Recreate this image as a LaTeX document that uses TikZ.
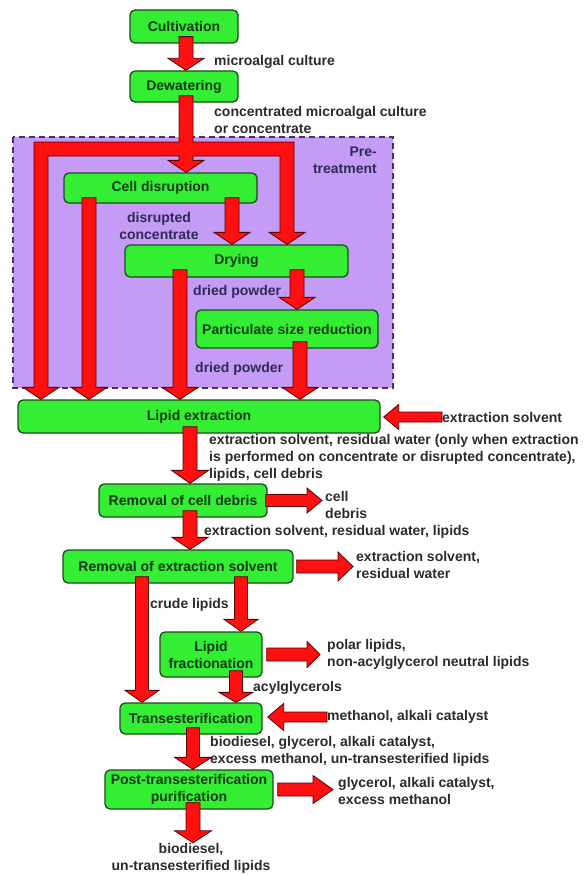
\documentclass[tikz,border=0pt]{standalone}
\usepackage{fontspec}
\setmainfont{Liberation Sans}
\usetikzlibrary{calc}
\definecolor{boxgreen}{HTML}{33EE33}
\definecolor{boxline}{HTML}{1E4A1E}
\definecolor{nodetext}{HTML}{0F3A0F}
\definecolor{purplefill}{HTML}{C49CF6}
\definecolor{purpleline}{HTML}{4A2D6E}
\definecolor{arrowred}{HTML}{FF1010}
\definecolor{arrowline}{HTML}{5A0000}
\definecolor{labeltext}{HTML}{2B2B2B}
\definecolor{innertext}{HTML}{2E2A55}
\newcommand\labfont{\fontsize{14}{17}\selectfont\bfseries}
\tikzset{
  proc/.style={draw=boxline, fill=boxgreen, line width=1.3pt, rounded corners=5pt,
    inner sep=0pt, font=\labfont, text=nodetext, align=center},
  lab/.style={inner sep=0pt, font=\labfont, text=labeltext, align=left, anchor=west},
  blockarrow/.style={fill=arrowred, draw=arrowline, line width=0.8pt, line join=miter},
  pregroup/.style={draw=purpleline, fill=purplefill, line width=1.2pt, dash pattern=on 6pt off 4pt},
}
% #1 shaft half width, #2 head half width, #3 head length, #4 from, #5 to
\newcommand\barrow[5]{%
  \coordinate (bS) at (#4);
  \coordinate (bE) at (#5);
  \coordinate (bH) at ($(bE)!#3!(bS)$);
  \filldraw[blockarrow] ($(bS)!#1!90:(bE)$) -- ($(bH)!#1!-90:(bS)$) -- ($(bH)!#2!-90:(bS)$)
    -- (bE) -- ($(bH)!#2!90:(bS)$) -- ($(bH)!#1!90:(bS)$) -- ($(bS)!#1!-90:(bE)$) -- cycle;
}
\begin{document}
\begin{tikzpicture}[x=1pt,y=-1pt]
\useasboundingbox[fill=white] (0,0) rectangle (585,875);
% pre-treatment group
\path[pregroup] (13,137) rectangle (393,388);
% column coordinates
\coordinate (cL) at (41,0);
\coordinate (cM) at (186,0);
\coordinate (cR) at (287,0);
\coordinate (c2) at (89,0);
\coordinate (c3) at (232,0);
\coordinate (c4) at (180,0);
\coordinate (c5) at (297,0);
\coordinate (c6) at (300,0);
\coordinate (c7) at (190,0);
\coordinate (c8) at (142,0);
\coordinate (c9) at (241,0);
\coordinate (c10) at (236,0);
\coordinate (c11) at (193,0);
% process nodes
\node[proc, minimum width=108, minimum height=33] (cult) at (184,26.5) {Cultivation};
\node[proc, minimum width=108, minimum height=31] (dew) at (184,86.5) {Dewatering};
\node[proc, minimum width=193, minimum height=30] (cell) at (160.5,188) {Cell disruption};
\node[proc, minimum width=223, minimum height=32] (dry) at (236.5,261) {Drying};
\node[proc, minimum width=182, minimum height=38] (psr) at (287,329) {Particulate size reduction};
\node[proc, minimum width=362, minimum height=33] (lipid) at (199,416.5) {Lipid extraction};
\node[proc, minimum width=168, minimum height=33] (rcd) at (183,500.5) {Removal of cell debris};
\node[proc, minimum width=230, minimum height=33] (res) at (178,566.5) {Removal of extraction solvent};
\node[proc, minimum width=102, minimum height=45] (frac) at (211,654.5) {Lipid\\fractionation};
\node[proc, minimum width=142, minimum height=31] (trans) at (191,718.5) {Transesterification};
\node[proc, minimum width=168, minimum height=39] (post) at (189,789.5) {Post-transesterification\\purification};
% labels
\node[lab] (l1) at (214,62) {microalgal culture};
\node[lab] (l2) at (214,120) {concentrated microalgal culture\\or concentrate};
\node[lab, anchor=east, align=right, text=innertext] (pre) at (377,160) {Pre-\\treatment};
\node[lab, anchor=center, align=center, text=innertext] (l3) at (159,226) {disrupted\\concentrate};
\node[lab, text=innertext] (l4) at (193,292) {dried powder};
\node[lab, text=innertext] (l5) at (195,369) {dried powder};
\node[lab] (esl) at (442,417) {extraction solvent};
\node[lab] (l6) at (209,458) {extraction solvent, residual water (only when extraction\\is performed on concentrate or disrupted concentrate),\\lipids, cell debris};
\node[lab] (cdl) at (325,505) {cell\\debris};
\node[lab] (l7) at (204,532) {extraction solvent, residual water, lipids};
\node[lab] (esol) at (356,564.5) {extraction solvent,\\residual water};
\node[lab] (l8) at (150,605) {crude lipids};
\node[lab] (pol) at (327,654.5) {polar lipids,\\non-acylglycerol neutral lipids};
\node[lab] (l9) at (253,688) {acylglycerols};
\node[lab] (meth) at (327,717) {methanol, alkali catalyst};
\node[lab] (l10) at (210,751.5) {biodiesel, glycerol, alkali catalyst,\\excess methanol, un-transesterified lipids};
\node[lab] (gly) at (338,790.5) {glycerol, alkali catalyst,\\excess methanol};
\node[lab, anchor=center, align=center] (out) at (191,858) {biodiesel,\\un-transesterified lipids};
% distribution pipe from dewatering
\filldraw[blockarrow]
  ($(dew.south -| cM)+(-7,-7)$) -- ($(cM)+(-7,142)$) -- ($(cL)+(-7,142)$)
  -- ($(lipid.north -| cL)+(-7,-12)$) -- ($(lipid.north -| cL)+(-18,-12)$) -- (lipid.north -| cL)
  -- ($(lipid.north -| cL)+(18,-12)$) -- ($(lipid.north -| cL)+(7,-12)$)
  -- ($(cL)+(7,156)$) -- ($(cM)+(-7,156)$)
  -- ($(cell.north -| cM)+(-7,-12)$) -- ($(cell.north -| cM)+(-18,-12)$) -- (cell.north -| cM)
  -- ($(cell.north -| cM)+(18,-12)$) -- ($(cell.north -| cM)+(7,-12)$)
  -- ($(cM)+(7,156)$) -- ($(cR)+(-7,156)$)
  -- ($(dry.north -| cR)+(-7,-12)$) -- ($(dry.north -| cR)+(-18,-12)$) -- (dry.north -| cR)
  -- ($(dry.north -| cR)+(18,-12)$) -- ($(dry.north -| cR)+(7,-12)$)
  -- ($(cR)+(7,142)$) -- ($(cM)+(7,142)$) -- ($(dew.south -| cM)+(7,-7)$) -- cycle;
% vertical arrows
\barrow{7pt}{18pt}{12pt}{$(cult.south -| cM)+(0,-7)$}{dew.north -| cM}
\barrow{7pt}{18pt}{12pt}{$(cell.south -| c2)+(0,-6)$}{lipid.north -| c2}
\barrow{7pt}{18pt}{12pt}{$(cell.south -| c3)+(0,-6)$}{dry.north -| c3}
\barrow{7pt}{18pt}{12pt}{$(dry.south -| c4)+(0,-8)$}{lipid.north -| c4}
\barrow{7pt}{18pt}{12pt}{$(dry.south -| c5)+(0,-8)$}{psr.north -| c5}
\barrow{7pt}{18pt}{12pt}{$(psr.south -| c6)+(0,-7)$}{lipid.north -| c6}
\barrow{7pt}{18.5pt}{13pt}{$(lipid.south -| c7)+(0,-7)$}{rcd.north -| c7}
\barrow{7pt}{18pt}{12pt}{$(rcd.south -| c7)+(0,-7)$}{res.north -| c7}
\barrow{6.5pt}{17pt}{12pt}{$(res.south -| c8)+(0,-7)$}{trans.north -| c8}
\barrow{6.5pt}{17pt}{12pt}{$(res.south -| c9)+(0,-7)$}{frac.north -| c9}
\barrow{6.5pt}{17pt}{10pt}{$(frac.south -| c10)+(0,-7)$}{trans.north -| c10}
\barrow{6.5pt}{18.5pt}{12pt}{$(trans.south -| c11)+(0,-7)$}{post.north -| c11}
\barrow{7pt}{18.5pt}{12pt}{$(post.south -| c11)+(0,-7)$}{out.north -| c11}
% horizontal arrows
\barrow{5pt}{12.5pt}{15pt}{esl.west}{$(lipid.east |- esl.west)+(3,0)$}
\barrow{6pt}{12.5pt}{15pt}{$(rcd.east)+(-2,0)$}{$(cdl.west |- rcd.east)+(-3,0)$}
\barrow{6.5pt}{14.5pt}{15pt}{$(res.east)+(3,0)$}{$(esol.west |- res.east)+(-3,0)$}
\barrow{6.5pt}{13pt}{13pt}{$(frac.east)+(4,0)$}{$(pol.west |- frac.east)+(-7,0)$}
\barrow{5pt}{13.5pt}{16pt}{meth.west}{$(trans.east |- meth.west)+(5,0)$}
\barrow{6.5pt}{14pt}{20pt}{$(post.east)+(4,0)$}{$(gly.west |- post.east)+(-5,0)$}
\end{tikzpicture}
\end{document}
